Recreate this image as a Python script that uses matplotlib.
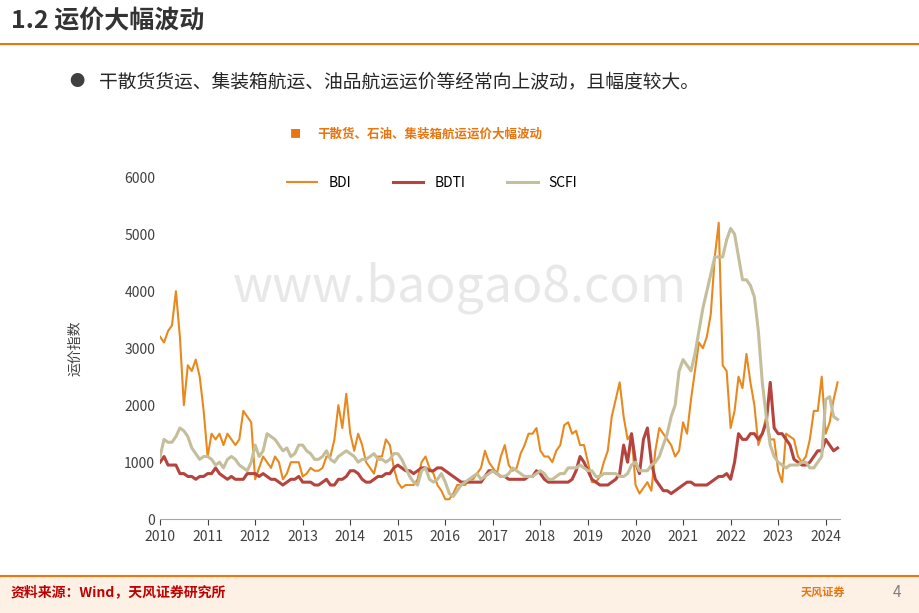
import matplotlib
matplotlib.use("Agg")
import matplotlib.pyplot as plt
import numpy as np

plt.rcParams["font.family"] = ["Noto Sans CJK SC", "DejaVu Sans"]

years = list(range(2010, 2025))
bdi = [3200,3100,3300,3400,4000,3200,2000,2700,2600,2800,2500,1900,
       1100,1500,1400,1500,1300,1500,1400,1300,1400,1900,1800,1700,
       700,900,1100,1000,900,1100,1000,700,800,1000,1000,1000,
       750,800,900,850,850,900,1100,1100,1400,2000,1600,2200,
       1500,1200,1500,1300,1000,900,800,1100,1100,1400,1300,900,
       650,550,600,600,600,700,1000,1100,900,800,600,500,
       350,350,450,600,600,600,700,700,800,900,1200,1000,
       900,800,1100,1300,950,850,900,1150,1300,1500,1500,1600,
       1200,1100,1100,1000,1200,1300,1650,1700,1500,1550,1300,1300,
       1000,650,650,750,1000,1200,1800,2100,2400,1800,1400,1500,
       600,450,550,650,500,1200,1600,1500,1400,1300,1100,1200,
       1700,1500,2100,2600,3100,3000,3200,3600,4600,5200,2700,2600,
       1600,1900,2500,2300,2900,2400,2000,1300,1500,1800,1400,1400,
       850,650,1500,1450,1400,1100,1000,1100,1400,1900,1900,2500,
       1500,1700,2100,2400]
bdti = [1000,1100,950,950,950,800,800,750,750,700,750,750,
        800,800,900,800,750,700,750,700,700,700,800,800,
        800,750,800,750,700,700,650,600,650,700,700,750,
        650,650,650,600,600,650,700,600,600,700,700,750,
        850,850,800,700,650,650,700,750,750,800,800,900,
        950,900,850,850,800,850,900,900,850,850,900,900,
        850,800,750,700,650,650,650,650,650,650,750,850,
        850,800,750,750,700,700,700,700,700,750,750,850,
        800,700,650,650,650,650,650,650,700,850,1100,1000,
        850,700,650,600,600,600,650,700,800,1300,1000,1500,
        1000,800,1400,1600,1000,700,600,500,500,450,500,550,
        600,650,650,600,600,600,600,650,700,750,750,800,
        700,1000,1500,1400,1400,1500,1500,1400,1500,1700,2400,1600,
        1500,1500,1400,1300,1050,1000,950,950,1000,1100,1200,1200,
        1400,1300,1200,1250]
scfi = [1100,1400,1350,1350,1450,1600,1550,1450,1250,1150,1050,1100,
        1100,1050,950,1000,900,1050,1100,1050,950,900,850,1000,
        1300,1100,1200,1500,1450,1400,1300,1200,1250,1100,1150,1300,
        1300,1200,1150,1050,1050,1100,1200,1050,1000,1100,1150,1200,
        1150,1100,1000,1050,1050,1100,1150,1050,1050,1000,1050,1150,
        1150,1050,900,750,650,600,850,900,700,650,700,800,
        650,450,400,500,600,650,700,750,800,700,750,800,
        850,800,750,750,800,900,850,800,750,750,750,800,
        850,800,700,700,750,800,800,900,900,900,950,900,
        850,850,750,750,800,800,800,800,750,750,800,950,
        1000,850,850,850,950,1000,1100,1300,1500,1800,2000,2600,
        2800,2700,2600,2900,3300,3700,4000,4300,4600,4600,4600,4900,
        5100,5000,4600,4200,4200,4100,3900,3300,2400,1800,1300,1100,
        1000,950,900,950,950,950,1000,1000,900,900,1000,1100,
        2100,2150,1800,1750]

def xs(n):
    return 2010 + np.arange(n) / 12.0

fig = plt.figure(figsize=(9.2, 6.13), dpi=100)
orange = "#E8750F"
fig.text(0.012, 0.965, "1.2 运价大幅波动", fontsize=18, fontweight="bold", color="#333333", va="center")
fig.add_artist(plt.Line2D([0.0, 1.0], [0.928, 0.928], color=orange, lw=1.5))
fig.text(0.075, 0.867, "●", fontsize=11, color="#404040", va="center")
fig.text(0.108, 0.867, "干散货货运、集装箱航运、油品航运运价等经常向上波动，且幅度较大。", fontsize=13.5, color="#262626", va="center")
fig.text(0.315, 0.781, "■", fontsize=8, color=orange, va="center")
fig.text(0.345, 0.781, "干散货、石油、集装箱航运运价大幅波动", fontsize=9, color=orange, fontweight="bold", va="center")

ax = fig.add_axes([0.174, 0.153, 0.739, 0.558])
ax.plot(xs(len(bdi)), bdi, color="#E8891F", lw=1.5, label="BDI")
ax.plot(xs(len(bdti)), bdti, color="#B5443F", lw=2.2, label="BDTI")
ax.plot(xs(len(scfi)), scfi, color="#C4BE9A", lw=2.2, label="SCFI")
ax.set_xlim(2010, 2024.3)
ax.set_ylim(0, 6000)
ax.set_xticks(years)
ax.set_yticks(range(0, 6001, 1000))
ax.tick_params(labelsize=10, colors="#404040", length=4)
ax.tick_params(axis="y", length=0)
for s in ["top", "right", "left"]:
    ax.spines[s].set_visible(False)
ax.spines["bottom"].set_color("#A6A6A6")
ax.set_ylabel("运价指数", fontsize=10, color="#404040", labelpad=30)
ax.legend(loc="upper center", bbox_to_anchor=(0.4, 1.04), ncol=3, frameon=False,
          fontsize=10, handlelength=2.2, columnspacing=3)
fig.text(0.5, 0.53, "www.baogao8.com", fontsize=36, color="#D9D9D9", alpha=0.6, ha="center", va="center")

fig.add_artist(plt.Rectangle((0, 0), 1, 0.06, transform=fig.transFigure, color="#FDF1E6", zorder=-1))
fig.add_artist(plt.Line2D([0.0, 1.0], [0.06, 0.06], color=orange, lw=1.5))
fig.text(0.012, 0.034, "资料来源：Wind，天风证券研究所", fontsize=10, fontweight="bold", color="#C00000", va="center")
fig.text(0.87, 0.034, "天风证券", fontsize=8, color=orange, va="center", fontweight="bold")
fig.text(0.97, 0.034, "4", fontsize=11, color="#808080", va="center")
fig.savefig("out.png", dpi=100)
